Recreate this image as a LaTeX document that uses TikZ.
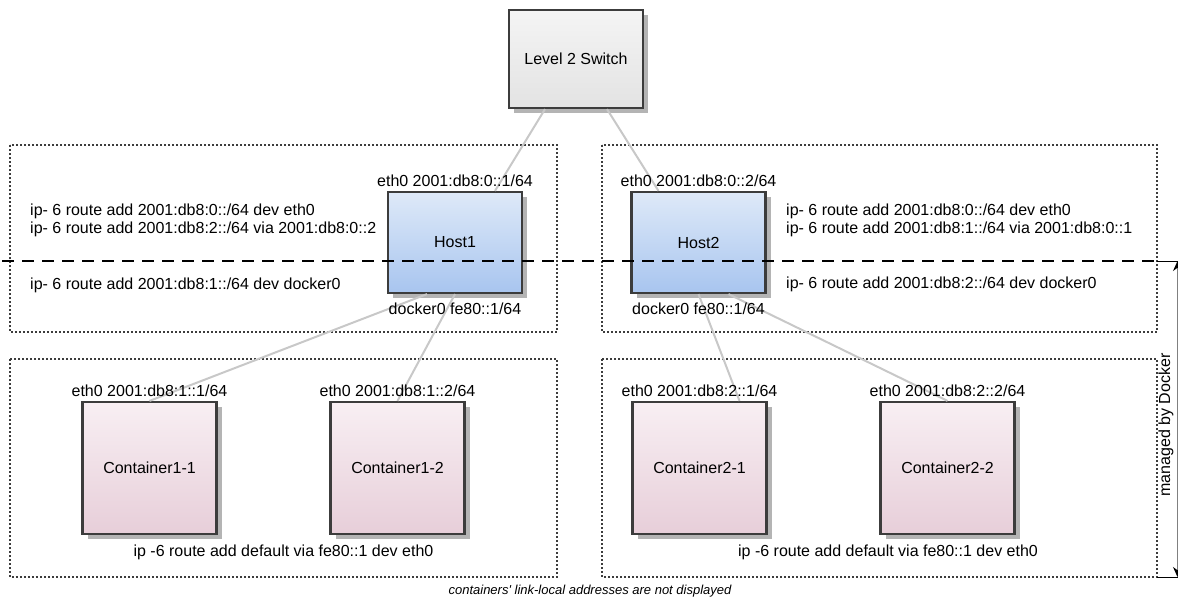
\documentclass[tikz,border=0pt]{standalone}
\usepackage{fontspec}
\setmainfont{Liberation Sans}
\usepackage{xcolor}
\usetikzlibrary{arrows.meta,positioning,shadows}

\definecolor{boxline}{HTML}{3C3C3C}
\definecolor{shadowgray}{HTML}{B4B4B4}
\definecolor{linkgray}{HTML}{C8C8C8}
\definecolor{swtop}{HTML}{F4F4F4}
\definecolor{swbot}{HTML}{E3E3E3}
\definecolor{hosttop}{HTML}{DEE9F8}
\definecolor{hostbot}{HTML}{A8C5EF}
\definecolor{ctrtop}{HTML}{F8EFF3}
\definecolor{ctrbot}{HTML}{E7CED9}

\begin{document}
\begin{tikzpicture}[x=1pt, y=-1pt, >=Stealth, font=\fontsize{16}{18}\selectfont,
    unit/.style={draw=boxline, line width=2.2pt, minimum width=134pt, inner sep=0pt,
                 drop shadow={shadow xshift=5pt, shadow yshift=-5pt, fill=shadowgray, opacity=1}},
    switchbox/.style={unit, minimum height=98pt, top color=swtop, bottom color=swbot},
    hostbox/.style={unit, minimum height=101pt, top color=hosttop, bottom color=hostbot},
    ctrbox/.style={unit, minimum height=132pt, top color=ctrtop, bottom color=ctrbot},
    zone/.style={draw=boxline, line width=2pt, dash pattern=on 2pt off 2pt},
    link/.style={draw=linkgray, line width=2pt},
    addr/.style={inner sep=1pt},
    route/.style={anchor=west, align=left, inner sep=0pt}]
    \useasboundingbox (0,0) rectangle (1178,600);
    \clip (0,0) rectangle (1178,600);

    % dotted areas
    \draw[zone] (10,145) rectangle (557,332);
    \draw[zone] (602,145) rectangle (1157,332);
    \draw[zone] (10,359) rectangle (557,577);
    \draw[zone] (602,359) rectangle (1157,577);

    % boxes
    \node[switchbox] (sw) at (576,59) {Level 2 Switch};
    \node[hostbox] (h1) at (455,242.5) {Host1};
    \node[hostbox] (h2) at (698.5,242.5) {Host2};
    \node[ctrbox] (c11) at (149.5,468) {Container1-1};
    \node[ctrbox] (c12) at (397.5,468) {Container1-2};
    \node[ctrbox] (c21) at (699.5,468) {Container2-1};
    \node[ctrbox] (c22) at (947.5,468) {Container2-2};

    % wires
    \draw[link] ([xshift=-31pt]sw.south) -- ([xshift=40pt]h1.north);
    \draw[link] ([xshift=31pt]sw.south) -- ([xshift=-40pt]h2.north);
    \draw[link] ([xshift=-28pt]h1.south) -- (c11.north);
    \draw[link] (h1.south) -- (c12.north);
    \draw[link] (h2.south) -- ([xshift=40pt]c21.north);
    \draw[link] ([xshift=30pt]h2.south) -- (c22.north);

    % addresses
    \node[addr, above=3pt of h1] (h1eth) {eth0 2001:db8:0::1/64};
    \node[addr, below=8pt of h1] (h1dck) {docker0 fe80::1/64};
    \node[addr, above=3pt of h2] (h2eth) {eth0 2001:db8:0::2/64};
    \node[addr, below=8pt of h2] (h2dck) {docker0 fe80::1/64};
    \node[addr, above=3pt of c11] (c11eth) {eth0 2001:db8:1::1/64};
    \node[addr, above=3pt of c12] (c12eth) {eth0 2001:db8:1::2/64};
    \node[addr, above=3pt of c21] (c21eth) {eth0 2001:db8:2::1/64};
    \node[addr, above=3pt of c22] (c22eth) {eth0 2001:db8:2::2/64};

    % routes
    \node[route] (r1) at (30,220) {ip- 6 route add 2001:db8:0::/64 dev eth0\\
                                   ip- 6 route add 2001:db8:2::/64 via 2001:db8:0::2};
    \node[route] (r1d) at (30,285) {ip- 6 route add 2001:db8:1::/64 dev docker0};
    \node[route] (r2) at (786,220) {ip- 6 route add 2001:db8:0::/64 dev eth0\\
                                    ip- 6 route add 2001:db8:1::/64 via 2001:db8:0::1};
    \node[route] (r2d) at (786,284) {ip- 6 route add 2001:db8:2::/64 dev docker0};
    \node (dflt1) at (283.5,552) {ip -6 route add default via fe80::1 dev eth0};
    \node (dflt2) at (888,552) {ip -6 route add default via fe80::1 dev eth0};

    % host / docker split
    \coordinate (dl) at (2,261);
    \coordinate (dr) at (1157,261);
    \coordinate (mtop) at (1177.5,261);
    \coordinate (mbot) at (1177.5,577);
    \draw[line width=1.2pt, dash pattern=on 12pt off 8pt] (dl) -- (dr);
    \draw[line width=1pt] (dr) -- (mtop);
    \draw[line width=1pt] (1157,577) -- (mbot);
    \draw[{Stealth[length=10pt,width=9pt,black]}-{Stealth[length=10pt,width=9pt,black]},
          gray, line width=1pt] (mtop) -- (mbot);
    \node[rotate=90] (mgd) at (1166,425) {managed by Docker};

    \node[font=\fontsize{13}{15}\selectfont\itshape] (note) at (590,591)
        {containers\textquotesingle{} link-local addresses are not displayed};
\end{tikzpicture}
\end{document}
